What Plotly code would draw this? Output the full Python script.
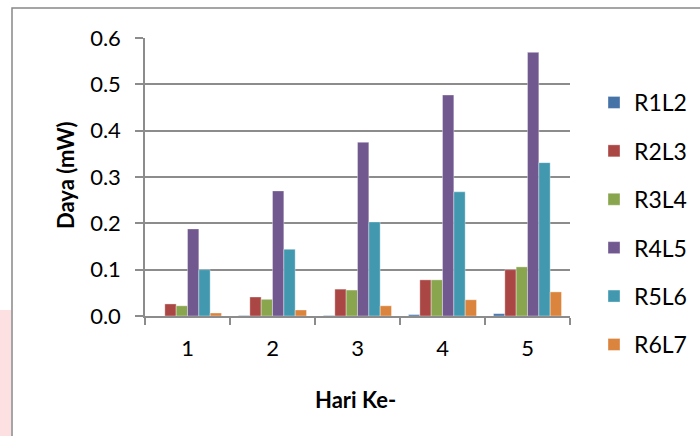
import plotly.graph_objects as go

categories = ["1", "2", "3", "4", "5"]
series_names = ["R1L2", "R2L3", "R3L4", "R4L5", "R5L6", "R6L7"]
R1L2 = [0.0, 0.001, 0.001, 0.003, 0.005]
R2L3 = [0.026, 0.041, 0.058, 0.078, 0.100]
R3L4 = [0.022, 0.036, 0.056, 0.078, 0.106]
R4L5 = [0.188, 0.270, 0.375, 0.477, 0.569]
R5L6 = [0.100, 0.144, 0.203, 0.268, 0.331]
R6L7 = [0.0065, 0.013, 0.022, 0.035, 0.052]
y_ticks = [0.0, 0.1, 0.2, 0.3, 0.4, 0.5, 0.6]
y_tick_labels = ["0.0", "0.1", "0.2", "0.3", "0.4", "0.5", "0.6"]

series_values = [R1L2, R2L3, R3L4, R4L5, R5L6, R6L7]
colors = ["#4572A7", "#AA4643", "#89A54E", "#71588F", "#4198AF", "#DB843D"]

W, H = 700, 436
L, R, T, B = 145, 570, 38, 316
pw, ph = R - L, B - T

def px(x):
    return (x - L) / pw

def py(y):
    return (B - y) / ph

fig = go.Figure()
for name, vals, col in zip(series_names, series_values, colors):
    fig.add_trace(go.Bar(
        x=categories, y=vals, name=name, legendgroup=name,
        marker=dict(color=col, line=dict(color="rgba(255,255,255,0.6)", width=0.6)),
    ))

font = "Lato, 'Open Sans', sans-serif"
grid = "#8c8c8c"
fs = 22

fig.update_layout(
    width=W, height=H,
    margin=dict(l=L, r=W - R, t=T, b=H - B, autoexpand=False),
    paper_bgcolor="white", plot_bgcolor="white",
    barmode="group", bargap=0.2, bargroupgap=0,
    font=dict(family=font, size=fs, color="black"),
    showlegend=True,
    legend=dict(
        x=px(594), y=py(81), xanchor="left", yanchor="top",
        traceorder="grouped", tracegroupgap=15.5, maxheight=420,
        font=dict(family=font, size=23, color="black"),
        bgcolor="rgba(0,0,0,0)",
    ),
    xaxis=dict(
        type="category", tickson="boundaries", ticks="outside", ticklen=7,
        tickcolor=grid, tickwidth=1.5, showline=True, linecolor=grid, linewidth=1.5,
        showgrid=False, ticklabelstandoff=12,
        tickfont=dict(family=font, size=fs),
    ),
    yaxis=dict(
        range=[0, 0.6], tickvals=y_ticks, ticktext=y_tick_labels,
        ticks="outside", ticklen=8, tickcolor=grid, tickwidth=1.5,
        showline=True, linecolor=grid, linewidth=1.5,
        showgrid=True, gridcolor=grid, gridwidth=1.5, zeroline=False,
        ticklabelstandoff=10, tickfont=dict(family=font, size=fs),
    ),
    annotations=[
        dict(text="<b>Daya (mW)</b>", x=px(65), y=py(175), xref="paper", yref="paper",
             showarrow=False, textangle=-90, font=dict(family=font, size=fs),
             xanchor="center", yanchor="middle"),
        dict(text="<b>Hari Ke-</b>", x=px(355), y=py(399), xref="paper", yref="paper",
             showarrow=False, font=dict(family=font, size=fs),
             xanchor="center", yanchor="middle"),
    ],
    shapes=[
        dict(type="rect", xref="paper", yref="paper", x0=px(-5), x1=px(11), y0=py(310), y1=py(440),
             fillcolor="#fde1e2", line=dict(width=0), layer="below"),
        dict(type="rect", xref="paper", yref="paper", x0=px(12), x1=px(710), y0=py(8), y1=py(450),
             fillcolor="rgba(0,0,0,0)", line=dict(color="#888888", width=1.5)),
    ],
)

fig.write_html("out.html", config={"displayModeBar": False},
               post_script="document.body.style.margin='0';document.body.style.overflow='hidden';")
